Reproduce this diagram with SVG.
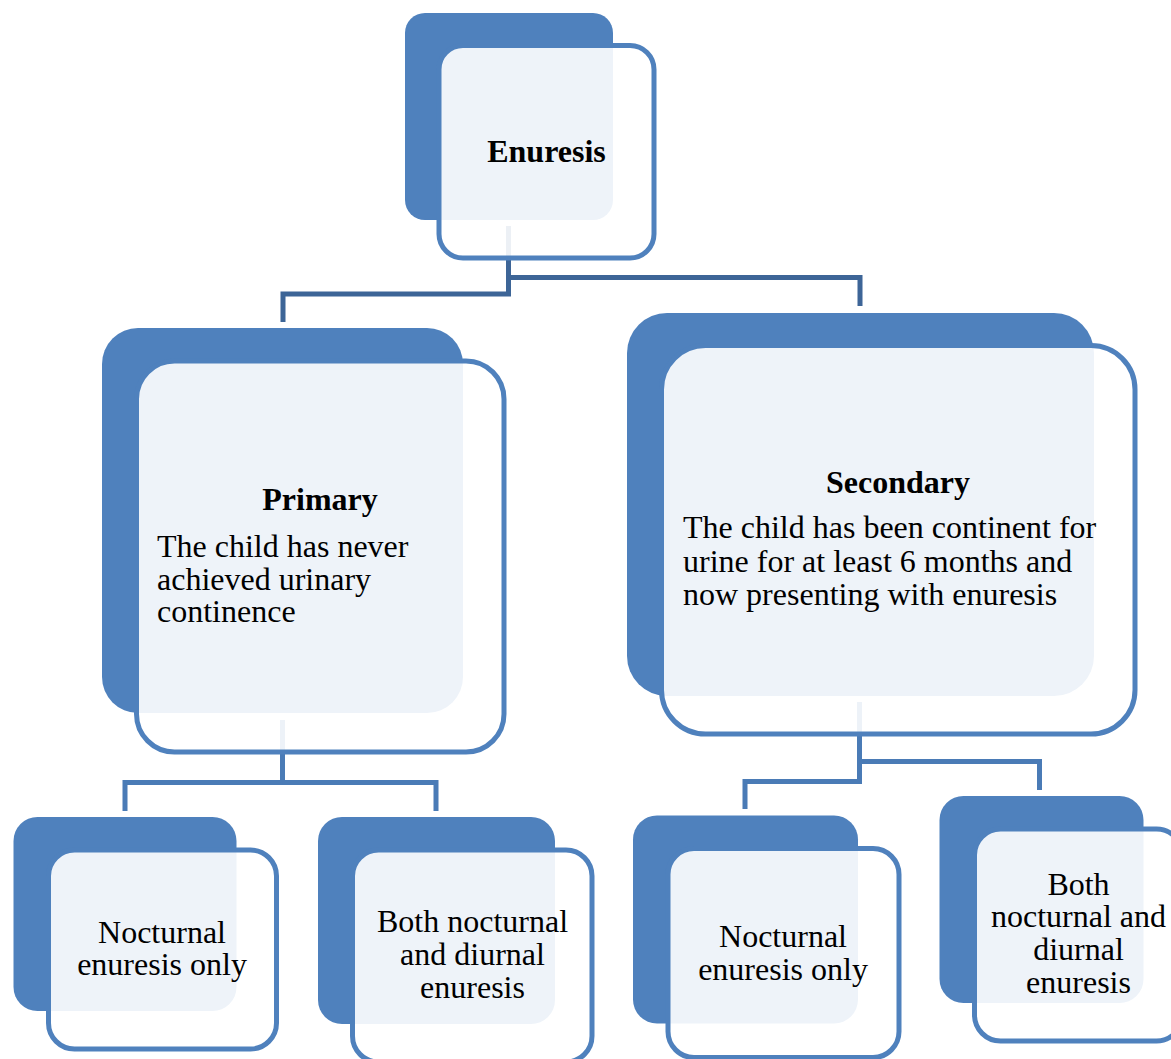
<svg xmlns="http://www.w3.org/2000/svg" width="1171" height="1059" viewBox="0 0 1171 1059">
<style>
.back{fill:#4F81BD;}
.front{fill:#FFFFFF;fill-opacity:0.9;stroke:#4F81BD;stroke-width:5;}
.t{font-family:"Liberation Serif","Times New Roman",serif;font-size:32px;fill:#000;}
.c{text-anchor:middle;}
.b{font-weight:bold;}
.conn1{fill:none;stroke:#3D6597;stroke-width:5;}
.conn2{fill:none;stroke:#4A7BB6;stroke-width:5;}
</style>
<rect width="1171" height="1059" fill="#FFFFFF"/>
<g id="connectors">
<polyline class="conn1" points="508.5,226 508.5,294 283,294 283,322"/>
<polyline class="conn1" points="508.5,277.5 860,277.5 860,306"/>
<polyline class="conn2" points="282.5,720 282.5,782.5 125,782.5 125,811"/>
<polyline class="conn2" points="282.5,782.5 436,782.5 436,811"/>
<polyline class="conn2" points="859.5,702 859.5,781.5 745,781.5 745,809"/>
<polyline class="conn2" points="859.5,761.5 1039.5,761.5 1039.5,790"/>
</g>
<g id="enuresis">
<rect class="back" x="405" y="13" width="208" height="207" rx="20"/>
<rect class="front" x="439" y="45.5" width="215" height="212.5" rx="24"/>
<text class="t b c" x="546.5" y="162">Enuresis</text>
</g>
<g id="primary">
<rect class="back" x="102" y="328" width="361" height="385" rx="36"/>
<rect class="front" x="136.5" y="361" width="367.5" height="391" rx="38"/>
<text class="t b c" x="320" y="510">Primary</text>
<text class="t" x="157" y="557">The child has never</text>
<text class="t" x="157" y="589.5">achieved urinary</text>
<text class="t" x="157" y="622">continence</text>
</g>
<g id="secondary">
<rect class="back" x="627" y="313" width="467" height="383" rx="40"/>
<rect class="front" x="661.5" y="345.5" width="473.5" height="388.5" rx="44"/>
<text class="t b c" x="898" y="493">Secondary</text>
<text class="t" x="683" y="538">The child has been continent for</text>
<text class="t" x="683" y="571.5">urine for at least 6 months and</text>
<text class="t" x="683" y="605">now presenting with enuresis</text>
</g>
<g id="primary-nocturnal">
<rect class="back" x="13.5" y="817" width="223" height="194" rx="24"/>
<rect class="front" x="48.5" y="850" width="228" height="199" rx="26"/>
<text class="t c" x="162" y="942.5">Nocturnal</text>
<text class="t c" x="162" y="975">enuresis only</text>
</g>
<g id="primary-both">
<rect class="back" x="318" y="817" width="237" height="207" rx="24"/>
<rect class="front" x="352.5" y="850" width="239.5" height="212" rx="26"/>
<text class="t c" x="472.5" y="932">Both nocturnal</text>
<text class="t c" x="472.5" y="965">and diurnal</text>
<text class="t c" x="472.5" y="998">enuresis</text>
</g>
<g id="secondary-nocturnal">
<rect class="back" x="633" y="815.5" width="225" height="208" rx="24"/>
<rect class="front" x="668" y="848.5" width="231" height="209" rx="26"/>
<text class="t c" x="783" y="947">Nocturnal</text>
<text class="t c" x="783" y="979.5">enuresis only</text>
</g>
<g id="secondary-both">
<rect class="back" x="939.5" y="796" width="204" height="207" rx="24"/>
<rect class="front" x="974.5" y="829" width="208" height="212" rx="26"/>
<text class="t c" x="1078.5" y="895">Both</text>
<text class="t c" x="1078.5" y="927">nocturnal and</text>
<text class="t c" x="1078.5" y="960">diurnal</text>
<text class="t c" x="1078.5" y="993">enuresis</text>
</g>
</svg>
